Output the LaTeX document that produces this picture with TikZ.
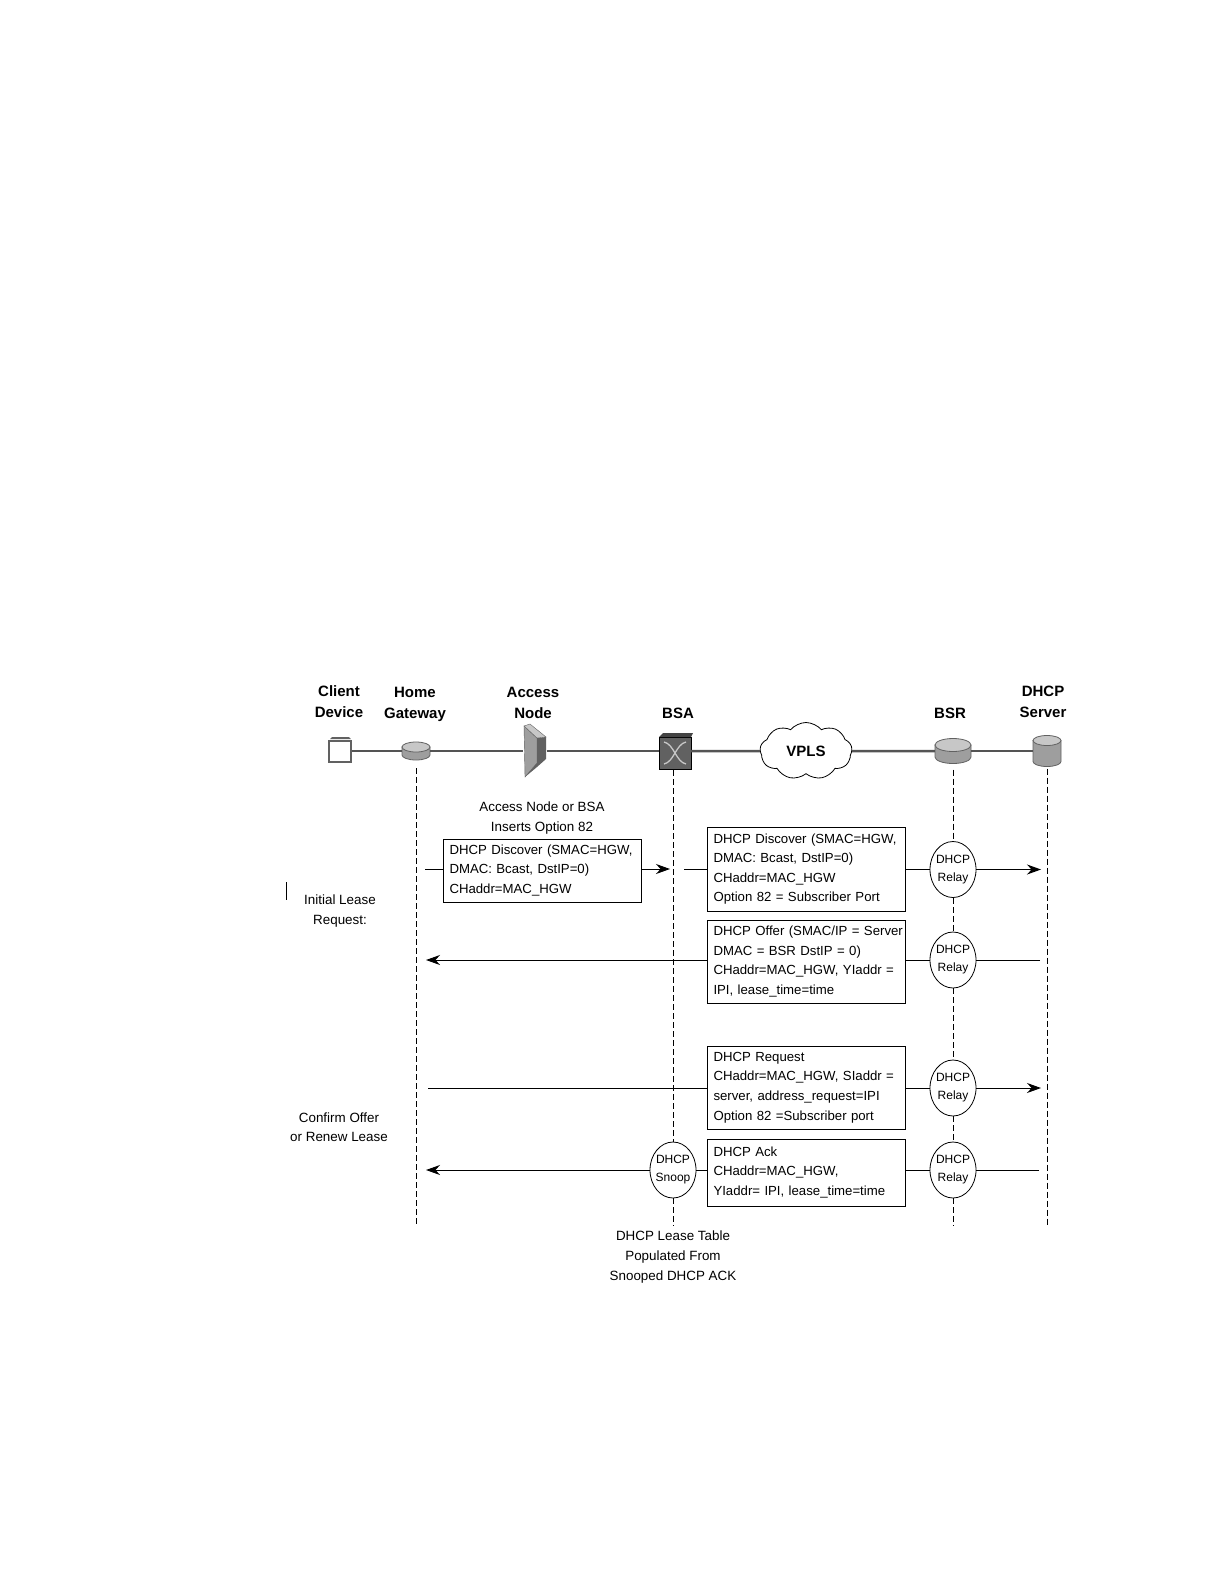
\documentclass[tikz,border=0pt]{standalone}
\usepackage{fontspec}
\setmainfont{Liberation Sans}
\usetikzlibrary{arrows.meta,shapes.geometric,shapes.symbols}
\definecolor{icongray}{gray}{0.62}
\definecolor{icondark}{gray}{0.38}
\definecolor{iconlight}{gray}{0.78}
\definecolor{linegray}{gray}{0.33}
\newcommand{\puckicon}[5]{%
  \fill[icongray,draw=icondark,line width=0.8pt] (#1-#3,#2-#4) -- (#1-#3,#2+#4) arc[start angle=180,end angle=360,x radius=#3,y radius=-#5] -- (#1+#3,#2-#4) -- cycle;
  \fill[iconlight,draw=icondark,line width=0.8pt] (#1,#2-#4) ellipse[x radius=#3,y radius=#5];
}
\tikzset{
  devlabel/.style={align=center,inner sep=0pt,font=\fontsize{15}{21}\selectfont\bfseries},
  notelabel/.style={align=center,inner sep=0pt,font=\fontsize{13.4}{19.6}\selectfont},
  msgbox/.style={draw,fill=white,line width=1pt,align=left,text width=191pt,inner xsep=3.5pt,inner ysep=0pt,font=\fontsize{13.2}{19.6}\selectfont,execute at begin node={\leftskip=2.5pt}},
  agent/.style={draw,fill=white,ellipse,line width=0.8pt,inner xsep=-2.5pt,inner ysep=0pt,minimum width=46pt,minimum height=56pt,align=center,font=\fontsize{12}{18}\selectfont},
  devspot/.style={inner sep=0pt},
  backbone/.style={line width=2.5pt,linegray},
  lifeline/.style={line width=1pt,dash pattern=on 6pt off 3pt},
  msgline/.style={line width=1pt},
  msgarrow/.style={line width=1pt,-{Stealth[length=14pt,width=10pt]}}
}
\begin{document}
\begin{tikzpicture}[x=1pt,y=-1pt]
\useasboundingbox (0,0) rectangle (1224,1584);
\node[devlabel](lclient) at (339,702){Client\\Device};
\node[devlabel](lhgw) at (415,704){Home\\Gateway};
\node[devlabel](laccess) at (533,703){Access\\Node};
\node[devlabel](lbsa) at (678,713){BSA};
\node[devlabel](lbsr) at (950,713){BSR};
\node[devlabel](lserver) at (1043,702){DHCP\\Server};
\node[draw=icondark,fill=white,line width=2pt,minimum width=22pt,minimum height=21pt,inner sep=0pt](client) at (340,751){};
\fill[icondark] (330,739) -- (332,737) -- (349,737) -- (351,739) -- cycle;
\puckicon{416}{751}{14}{4}{5}
\node[devspot,minimum width=28pt,minimum height=18pt](hgw) at (416,751){};
\fill[icongray,draw=icondark] (524,726) -- (537,738) -- (537,763) -- (525,777) -- cycle;
\fill[icondark] (537,738) -- (546,737) -- (546,759) -- (537,767) -- (525,777) -- (537,763) -- cycle;
\fill[iconlight,draw=icondark] (524,726) -- (530,724) -- (546,737) -- (537,738) -- cycle;
\node[devspot,minimum width=23pt,minimum height=30pt](access) at (535,751){};
\node[draw=black,fill=icondark,minimum width=32pt,minimum height=32pt,inner sep=0pt](bsa) at (675,753){};
\fill[icondark!70!black] (659,737) -- (663,733) -- (693,733) -- (691,737) -- cycle;
\draw[iconlight,line width=1.3pt] (664,742) .. controls (674,744) and (676,762) .. (686,764);
\draw[iconlight,line width=1.3pt] (664,764) .. controls (674,762) and (676,744) .. (686,742);
\node[cloud,draw,fill=white,cloud puffs=9,cloud puff arc=100,aspect=1.7,line width=0.8pt,inner sep=0pt,minimum width=92pt,minimum height=57pt,font=\fontsize{15}{20}\selectfont\bfseries](vpls) at (806,751){VPLS};
\puckicon{953}{751}{18}{6}{6.5}
\node[devspot,minimum width=36pt,minimum height=25pt](bsr) at (953,751){};
\puckicon{1047}{751}{14}{10.5}{5}
\node[devspot,minimum width=28pt,minimum height=31pt](server) at (1047,751){};
\draw[backbone] (client) -- (hgw);
\draw[backbone] (hgw) -- (access);
\draw[backbone] (access) -- (access -| bsa.west);
\draw[backbone] (vpls -| bsa.east) -- (vpls);
\draw[backbone] (vpls) -- (bsr);
\draw[backbone] (bsr) -- (server);
\node[notelabel](lbsanote) at (542,818){Access Node or BSA\\Inserts Option 82};
\node[notelabel](linitial) at (340,911){Initial Lease\\Request:};
\node[notelabel](lconfirm) at (339,1127){Confirm Offer\\or Renew Lease};
\node[notelabel](llease) at (673,1257){DHCP Lease Table\\Populated From\\Snooped DHCP ACK};
\node[msgbox,minimum height=63pt](discoverA) at (542.5,870.5){DHCP Discover (SMAC=HGW,\\DMAC: Bcast, DstIP=0)\\CHaddr=MAC\_HGW};
\node[msgbox,minimum height=84pt](discoverB) at (806.5,869){DHCP Discover (SMAC=HGW,\\DMAC: Bcast, DstIP=0)\\CHaddr=MAC\_HGW\\Option 82 = Subscriber Port};
\node[msgbox,minimum height=83pt](offer) at (806.5,961.5){\mbox{DHCP Offer (SMAC/IP = Server}\\DMAC = BSR DstIP = 0)\\CHaddr=MAC\_HGW, YIaddr =\\IPI, lease\_time=time};
\node[msgbox,minimum height=83pt](request) at (806.5,1087.5){DHCP Request\\CHaddr=MAC\_HGW, SIaddr =\\server, address\_request=IPI\\Option 82 =Subscriber port};
\node[msgbox,minimum height=67pt](ack) at (806.5,1172.5){DHCP Ack\\CHaddr=MAC\_HGW,\\YIaddr= IPI, lease\_time=time};
\node[agent](relayA) at (953,869.5){DHCP\\Relay};
\node[agent](relayB) at (953,960){DHCP\\Relay};
\node[agent](relayC) at (953,1088){DHCP\\Relay};
\node[agent](relayD) at (953,1170){DHCP\\Relay};
\node[agent](snoop) at (673,1170){DHCP\\Snoop};
\coordinate (hgwend) at (416,1226);
\coordinate (bsaend) at (673,1226);
\coordinate (bsrend) at (953,1226);
\coordinate (serverend) at (1047,1226);
\coordinate (discoverstart) at (425,869);
\coordinate (discovermid) at (670,869);
\coordinate (discovernext) at (684,869);
\coordinate (discoverend) at (1041,869.5);
\coordinate (offerstart) at (1040,960);
\coordinate (offerend) at (426,960);
\coordinate (requeststart) at (428,1088);
\coordinate (requestend) at (1041,1088);
\coordinate (ackstart) at (1039,1170);
\coordinate (ackend) at (426,1170);
\coordinate (ticktop) at (286,882);
\coordinate (tickend) at (286,900);
\draw[lifeline,shorten <=8pt] (hgw.south) -- (hgwend);
\draw[lifeline,shorten <=1pt] (snoop |- bsa.south) -- (snoop);
\draw[lifeline] (snoop) -- (bsaend);
\draw[lifeline,shorten <=6pt] (bsr.south) -- (relayA);
\draw[lifeline] (relayA) -- (relayB);
\draw[lifeline] (relayB) -- (relayC);
\draw[lifeline] (relayC) -- (relayD);
\draw[lifeline] (relayD) -- (bsrend);
\draw[lifeline,shorten <=2pt] (server.south) -- (serverend);
\draw[msgline] (discoverstart) -- (discoverstart -| discoverA.west);
\draw[msgarrow] (discoverstart -| discoverA.east) -- (discovermid);
\draw[msgline] (discovernext) -- (discovernext -| discoverB.west);
\draw[msgline] (discoverB.east |- relayA) -- (relayA);
\draw[msgarrow] (relayA) -- (discoverend);
\draw[msgline] (offerstart) -- (relayB);
\draw[msgline] (relayB) -- (relayB -| offer.east);
\draw[msgarrow] (offerend -| offer.west) -- (offerend);
\draw[msgline] (requeststart) -- (requeststart -| request.west);
\draw[msgline] (request.east |- relayC) -- (relayC);
\draw[msgarrow] (relayC) -- (requestend);
\draw[msgline] (ackstart) -- (relayD);
\draw[msgline] (relayD) -- (relayD -| ack.east);
\draw[msgline] (ack.west |- snoop) -- (snoop);
\draw[msgarrow] (snoop) -- (ackend);
\draw[line width=0.8pt] (ticktop) -- (tickend);
\end{tikzpicture}
\end{document}
